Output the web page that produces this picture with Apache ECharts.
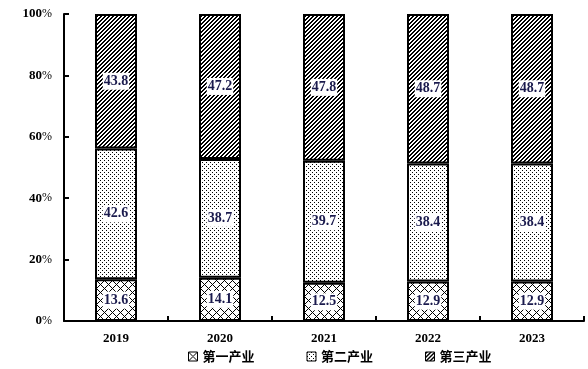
<!DOCTYPE html>
<html><head><meta charset="utf-8">
<script src="https://cdn.jsdelivr.net/npm/echarts@6/dist/echarts.min.js"></script>
<style>html,body{margin:0;padding:0;background:#fff}#c{width:588px;height:369px}</style>
</head><body><div id="c"></div>
<script>
const years = ['2019','2020','2021','2022','2023'];
const primary = [13.6, 14.1, 12.5, 12.9, 12.9];
const secondary = [42.6, 38.7, 39.7, 38.4, 38.4];
const tertiary = [43.8, 47.2, 47.8, 48.7, 48.7];
const seriesNames = ['第一产业','第二产业','第三产业'];

function makeTile(size, fn){
  const c = document.createElement('canvas');
  c.width = size; c.height = size;
  const ctx = c.getContext('2d');
  ctx.fillStyle = '#fff'; ctx.fillRect(0,0,size,size);
  ctx.fillStyle = '#000';
  for(let y=0;y<size;y++) for(let x=0;x<size;x++) if(fn(x,y)) ctx.fillRect(x,y,1,1);
  return c;
}
const cross = makeTile(8,(x,y)=> (x+y)%8===0 || ((x-y)+8)%8===0);
const dots = makeTile(4,(x,y)=> (x===0&&y===0)||(x===2&&y===2));
const diag = makeTile(4,(x,y)=> (x+y)%4===0 || (x+y)%4===1);
const pats = [cross, dots, diag];

const labelStyle = {
  show: true, position: 'inside',
  fontFamily: '"Liberation Serif","Times New Roman",serif',
  fontWeight: 'bold', fontSize: 14, color: '#1a1a4d',
  backgroundColor: '#fff', padding: [2,1,1,1]
};

const datas = [primary, secondary, tertiary];
const series = datas.map((d,i)=>({
  name: seriesNames[i], type: 'bar', stack: 'total', barWidth: 42,
  data: d,
  itemStyle: { color: {image: pats[i], repeat: 'repeat'}, borderColor: '#000', borderWidth: 2 },
  label: Object.assign({}, labelStyle, {formatter: p => p.value.toFixed(1)})
}));

const chart = echarts.init(document.getElementById('c'));
chart.setOption({
  animation: false,
  grid: {left: 64, right: 4, top: 14, bottom: 48},
  legend: {
    data: seriesNames, left: 183, top: 345, itemWidth: 9, itemHeight: 9, itemGap: 52,
    icon: 'rect',
    itemStyle: {borderColor: '#000', borderWidth: 1},
    textStyle: {fontFamily: '"Noto Sans CJK SC",sans-serif', fontWeight: 'bold', fontSize: 13, color: '#000'}
  },
  xAxis: {
    type: 'category', data: years,
    axisLine: {lineStyle: {color: '#000', width: 2}},
    axisTick: {show: true, inside: true, length: 5, lineStyle: {color: '#000', width: 2}},
    axisLabel: {margin: 11, fontFamily: '"Liberation Serif",serif', fontWeight: 'bold', fontSize: 13, color: '#000'}
  },
  yAxis: {
    type: 'value', min: 0, max: 100, interval: 20,
    splitLine: {show: false},
    axisLine: {show: true, lineStyle: {color: '#000', width: 2}},
    axisTick: {show: true, inside: true, length: 5, lineStyle: {color: '#000', width: 2}},
    axisLabel: {
      margin: 12, formatter: v => '{n|' + v + '}{p|%}',
      rich: {
        n: {fontFamily: '"Liberation Serif",serif', fontWeight: 'bold', fontSize: 13, color: '#000'},
        p: {fontFamily: '"Liberation Serif",serif', fontSize: 12, color: '#000'}
      }
    }
  },
  series: series
});
</script></body></html>
